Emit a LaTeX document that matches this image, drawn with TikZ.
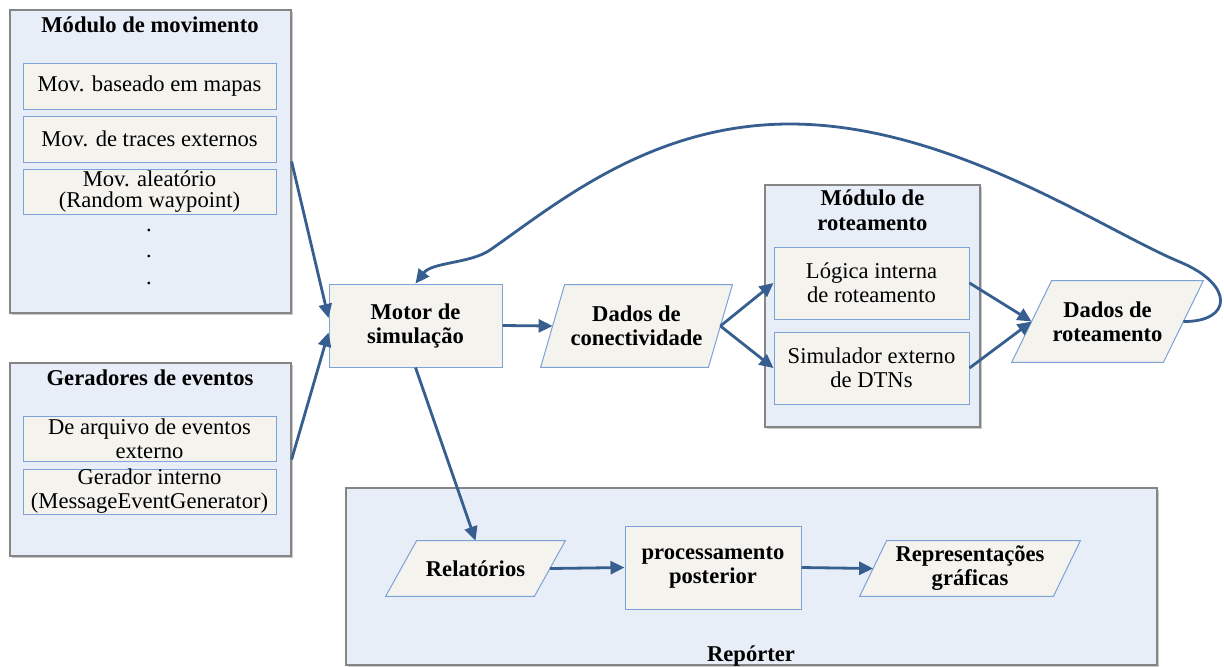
\documentclass[tikz,border=0pt]{standalone}
\usepackage{fontspec}
\setmainfont{Liberation Serif}
\usetikzlibrary{arrows.meta,calc,shadows}
\pgfdeclarelayer{paper}
\pgfdeclarelayer{back}
\pgfdeclarelayer{mid}
\pgfsetlayers{paper,back,mid,main}
\definecolor{modfill}{HTML}{E8EEF7}
\definecolor{modline}{HTML}{858585}
\definecolor{boxfill}{HTML}{F4F3EE}
\definecolor{boxline}{HTML}{7DA2D6}
\definecolor{flow}{HTML}{365E8F}

\tikzset{
  sz/.style 2 args={minimum width=#1*0.5pt, minimum height=#2*0.5pt},
  module/.style={draw=modline, fill=modfill, line width=0.6pt, inner sep=0pt,
    drop shadow={shadow xshift=1pt, shadow yshift=-1pt, opacity=0.35, fill=black!60}},
  title/.style={font=\fontsize{11.3}{12.5}\selectfont\bfseries, align=center, inner sep=0pt},
  inbox/.style={draw=boxline, fill=boxfill, line width=0.5pt, align=center, inner sep=0pt},
  slantline/.style={draw=boxline, fill=boxfill, line width=0.5pt},
  paratext/.style={align=center, inner sep=0pt, font=\fontsize{11.3}{12}\selectfont\bfseries},
  boldtext/.style={font=\fontsize{11.3}{12}\selectfont\bfseries},
  arr/.style={draw=flow, line width=1.4pt, -{Triangle[length=7pt,width=6.5pt]}}
}

% slanted data box around a text node: #1 node name, #2 half of the slant
\newcommand\slantbox[2]{%
  \begin{pgfonlayer}{mid}
    \draw[slantline] ($(#1.south west)+(-#2,0)$) -- ($(#1.north west)+(#2,0)$)
      -- ($(#1.north east)+(#2,0)$) -- ($(#1.south east)+(-#2,0)$) -- cycle;
  \end{pgfonlayer}}

\begin{document}
\begin{tikzpicture}[x=0.5pt,y=-0.5pt, font=\fontsize{11.3}{12}\selectfont]
\begin{pgfonlayer}{paper}
  \fill[white] (0,0) rectangle (1224,666);
\end{pgfonlayer}
\useasboundingbox (0,0) rectangle (1224,666);

% module frames
\begin{pgfonlayer}{back}
  \node[module, sz={281}{303}] (mm) at (150.5,161.5) {};
  \node[module, sz={281}{193}] (ge) at (150.5,459.5) {};
  \node[module, sz={215}{242}] (rm) at (872.5,306) {};
  \node[module, sz={811}{177}] (rp) at (751.5,576.5) {};
\end{pgfonlayer}

% movement module
\node[title] (mmT) at (150,25) {Módulo de movimento};
\node[inbox, sz={253}{46}] (m1) at (149.5,86) {Mov. baseado em mapas};
\node[inbox, sz={253}{46}] (m2) at (149.5,139) {Mov. de traces externos};
\node[inbox, sz={253}{45}, font=\fontsize{11.3}{10.5}\selectfont] (m3) at (149.5,192)
  {Mov. aleatório\\(Random waypoint)};
\node[anchor=base, inner sep=0pt] (d1) at (149,231) {.};
\node[anchor=base, inner sep=0pt] (d2) at (149,257) {.};
\node[anchor=base, inner sep=0pt] (d3) at (149,284) {.};

% event generators
\node[title] (geT) at (150,378) {Geradores de eventos};
\node[inbox, sz={253}{45}] (g1) at (149.5,438.5) {De arquivo de eventos\\externo};
\node[inbox, sz={253}{45}] (g2) at (149.5,491.5) {Gerador interno\\(MessageEventGenerator)};

% simulation engine and connectivity data
\node[inbox, boldtext, sz={173}{83}] (motor) at (415.5,325.5) {Motor de\\simulação};
\node[paratext, sz={167}{82}] (dc) at (636.5,326) {Dados de\\conectividade};
\slantbox{dc}{12}

% routing module
\node[title] (rmT) at (872.5,210) {Módulo de\\roteamento};
\node[inbox, sz={195}{72}] (lg) at (871.5,283) {Lógica interna\\de roteamento};
\node[inbox, sz={195}{72}] (sim) at (871.5,368) {Simulador externo\\de DTNs};
\node[paratext, sz={151}{81}] (dr) at (1107.5,321.5) {Dados de\\roteamento};
\slantbox{dr}{20}

% reporter
\node[paratext, sz={148}{55}] (rel) at (475.5,568.5) {Relatórios};
\slantbox{rel}{15.5}
\node[inbox, boldtext, sz={176}{83}] (proc) at (713,567.5) {processamento\\posterior};
\node[paratext, sz={193}{55}] (rep) at (970,568.5) {Representações\\gráficas};
\slantbox{rep}{13.5}
\node[title] (rpT) at (751,656) {Repórter};

% flows
\draw[arr] (mm.east) -- ([yshift=3.75pt]motor.west);
\draw[arr] (ge.east) -- ([yshift=-3.5pt]motor.west);
\draw[arr] (motor.east) -- (dc.west);
\draw[arr] (dc.east) -- (lg.west);
\draw[arr] (dc.east) -- (sim.west);
\draw[arr] (lg.east) -- (dr.west);
\draw[arr] (sim.east) -- (dr.west);
\draw[arr] (motor.south) -- (rel.north);
\draw[arr] (rel.east) -- (proc.west);
\draw[arr] (proc.east) -- (rep.west);

% feedback loop from routing data back to the engine
\coordinate (loopA) at (1180,262);
\coordinate (peak) at (790,124);
\coordinate (loopB) at (490,250);
\draw[arr] (dr.east) .. controls (1232,322) and (1235,285) .. (loopA)
  .. controls (1103,230) and (950,124) .. (peak)
  .. controls (650,124) and (555,205) .. (loopB)
  .. controls (470.5,263.5) and (432,262) .. (motor.north);
\end{tikzpicture}
\end{document}
